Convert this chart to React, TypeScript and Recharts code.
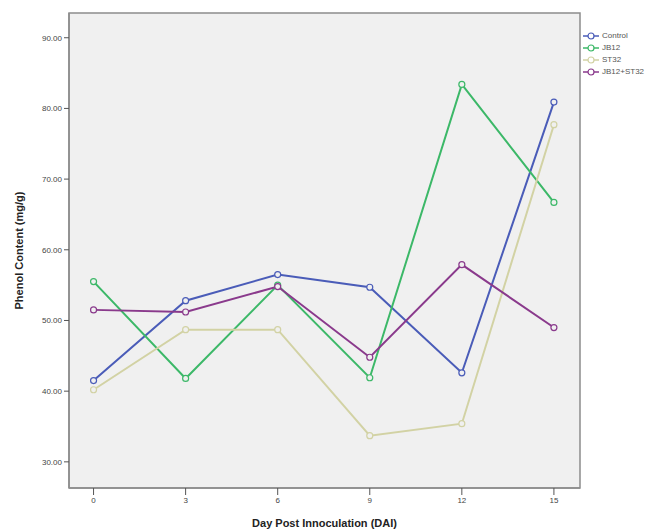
import {
  Legend,
  Line,
  LineChart,
  ReferenceArea,
  XAxis,
  YAxis,
} from "recharts";

const days = [0, 3, 6, 9, 12, 15];
const control = [41.5, 52.8, 56.5, 54.7, 42.6, 80.9];
const jb12 = [55.5, 41.8, 55.0, 41.9, 83.4, 66.7];
const st32 = [40.2, 48.7, 48.7, 33.7, 35.4, 77.7];
const jb12st32 = [51.5, 51.2, 54.8, 44.8, 57.9, 49.0];
const yTicks = [30, 40, 50, 60, 70, 80, 90];

const series = [
  { key: "control", name: "Control", color: "#4a5cb8" },
  { key: "jb12", name: "JB12", color: "#3cb868" },
  { key: "st32", name: "ST32", color: "#d2d2a4" },
  { key: "jb12st32", name: "JB12+ST32", color: "#8a3a8c" },
];

const data = days.map((d, i) => ({
  day: d,
  control: control[i],
  jb12: jb12[i],
  st32: st32[i],
  jb12st32: jb12st32[i],
}));

const X_DOMAIN: [number, number] = [-0.8, 15.85];
const Y_DOMAIN: [number, number] = [26.3, 93.5];

const font = "'Liberation Sans', Arial, sans-serif";

const LegendBox = () => (
  <div style={{ fontFamily: font, fontSize: 8, color: "#555", lineHeight: "12px" }}>
    {series.map((s) => (
      <div key={s.key} style={{ display: "flex", alignItems: "center" }}>
        <svg width={16} height={10} style={{ marginRight: 3 }}>
          <line x1={0} y1={5} x2={16} y2={5} stroke={s.color} strokeWidth={1.5} />
          <circle cx={8} cy={5} r={3} fill="#fff" stroke={s.color} strokeWidth={1.2} />
        </svg>
        <span>{s.name}</span>
      </div>
    ))}
  </div>
);

export default function App() {
  return (
    <div style={{ position: "absolute", left: 0, top: 0, background: "#fff" }}>
      <LineChart
        width={658}
        height={529}
        data={data}
        margin={{ top: 13, right: 3, left: 24, bottom: 0 }}
      >
        <ReferenceArea
          x1={X_DOMAIN[0]}
          x2={X_DOMAIN[1]}
          y1={Y_DOMAIN[0]}
          y2={Y_DOMAIN[1]}
          fill="#f0f0f0"
          fillOpacity={1}
          stroke="#8c8c8c"
          strokeWidth={1.5}
        />
        <XAxis
          dataKey="day"
          type="number"
          domain={X_DOMAIN}
          ticks={days}
          allowDataOverflow
          height={41}
          tickSize={7}
          axisLine={{ stroke: "#8c8c8c", strokeWidth: 1.5 }}
          tickLine={{ stroke: "#555" }}
          tick={{ fontSize: 8, fill: "#444", fontFamily: font }}
          label={{
            value: "Day Post Innoculation (DAI)",
            position: "insideBottom",
            offset: 2,
            style: { fontSize: 11, fontWeight: "bold", fill: "#222", fontFamily: font },
          }}
        />
        <YAxis
          type="number"
          domain={Y_DOMAIN}
          ticks={yTicks}
          allowDataOverflow
          width={45}
          tickSize={5}
          tickFormatter={(v: number) => v.toFixed(2)}
          axisLine={{ stroke: "#8c8c8c", strokeWidth: 1.5 }}
          tickLine={{ stroke: "#555" }}
          tick={{ fontSize: 8, fill: "#444", fontFamily: font }}
          label={{
            value: "Phenol Content (mg/g)",
            angle: -90,
            position: "center",
            dx: -27,
            style: { fontSize: 11, fontWeight: "bold", fill: "#222", fontFamily: font },
          }}
        />
        <Legend
          layout="horizontal"
          verticalAlign="middle"
          align="right"
          content={<LegendBox />}
          wrapperStyle={{ left: 583, top: 30, width: 75 }}
        />
        {series.map((s) => (
          <Line
            key={s.key}
            type="linear"
            dataKey={s.key}
            name={s.name}
            stroke={s.color}
            strokeWidth={2}
            dot={{ r: 3, fill: "#f0f0f0", stroke: s.color, strokeWidth: 1.2 }}
            activeDot={false}
            isAnimationActive={false}
          />
        ))}
      </LineChart>
    </div>
  );
}
